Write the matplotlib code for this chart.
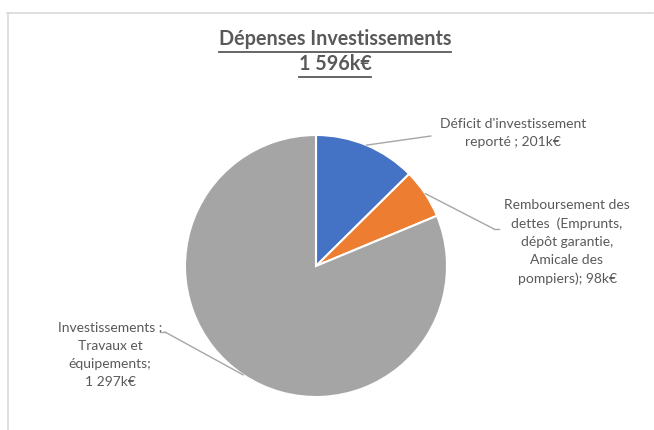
import matplotlib
matplotlib.use("Agg")
import matplotlib.pyplot as plt
import numpy as np
from matplotlib.lines import Line2D

plt.rcParams['font.family'] = ['Lato', 'DejaVu Sans']

title_lines = ["Dépenses Investissements", "1 596k€"]
categories = ["Déficit d'investissement\nreporté ; 201k€",
              "Remboursement des\ndettes  (Emprunts,\ndépôt garantie,\nAmicale des\npompiers); 98k€",
              "Investissements :\nTravaux et\néquipements;\n1 297k€"]
values = [201, 98, 1297]
colors = ["#4472C4", "#ED7D31", "#A5A5A5"]

W, H = 654, 430
fig = plt.figure(figsize=(W / 100, H / 100), dpi=100)
fig.patch.set_facecolor("white")

# frame (chart area border, top and left visible)
fig.add_artist(Line2D([7 / W, 653 / W], [1 - 12.5 / H, 1 - 12.5 / H], color="#D9D9D9", lw=1.2))
fig.add_artist(Line2D([7.5 / W, 7.5 / W], [0, 1 - 12.5 / H], color="#D9D9D9", lw=1.2))

cx, cy, r = 316, 266, 131
ax = fig.add_axes([(cx - r) / W, (H - cy - r) / H, 2 * r / W, 2 * r / H])
wedges, _ = ax.pie(values, colors=colors, startangle=90, counterclock=False,
                   radius=1, wedgeprops=dict(edgecolor="white", linewidth=1.5))
ax.set_xlim(-1, 1)
ax.set_ylim(-1, 1)
ax.set_aspect("equal")
ax.axis("off")

txtcol = "#595959"
# label anchor positions (pixels, centre of text block)
label_pos = [(513, 133), (567, 242), (110, 355)]
line_end = [(431, 136), (494, 229), (165, 332)]

total = sum(values)
cum = 0
for i, v in enumerate(values):
    mid = 90 - (cum + v / 2) / total * 360
    cum += v
    th = np.deg2rad(mid)
    fig.text(label_pos[i][0] / W, 1 - label_pos[i][1] / H, categories[i],
             ha="center", va="center", fontsize=10, color=txtcol, linespacing=1.6)
    ex, ey = line_end[i]
    ax.annotate("", xy=(np.cos(th), np.sin(th)), xycoords="data",
                xytext=(ex / W, 1 - ey / H), textcoords="figure fraction",
                arrowprops=dict(arrowstyle="-", color="#A6A6A6", lw=1.0,
                                shrinkA=0, shrinkB=0))
# small horizontal ticks at label ends
fig.add_artist(Line2D([494 / W, 499 / W], [1 - 229 / H, 1 - 229 / H], color="#A6A6A6", lw=1.0))
fig.add_artist(Line2D([160 / W, 165 / W], [1 - 332 / H, 1 - 332 / H], color="#A6A6A6", lw=1.0))

# title with underline
title_y = [39, 64]
fig.canvas.draw()
renderer = fig.canvas.get_renderer()
for t, yy in zip(title_lines, title_y):
    tx = fig.text(335 / W, 1 - yy / H, t, ha="center", va="center", fontsize=14.2,
                  fontweight="bold", color=txtcol)
    bb = tx.get_window_extent(renderer=renderer)
    uy = (H - yy - 12.5) / H
    fig.add_artist(Line2D([bb.x0 / W, bb.x1 / W], [uy, uy], color=txtcol, lw=1.3))

fig.savefig("out.png", dpi=100, facecolor="white")
